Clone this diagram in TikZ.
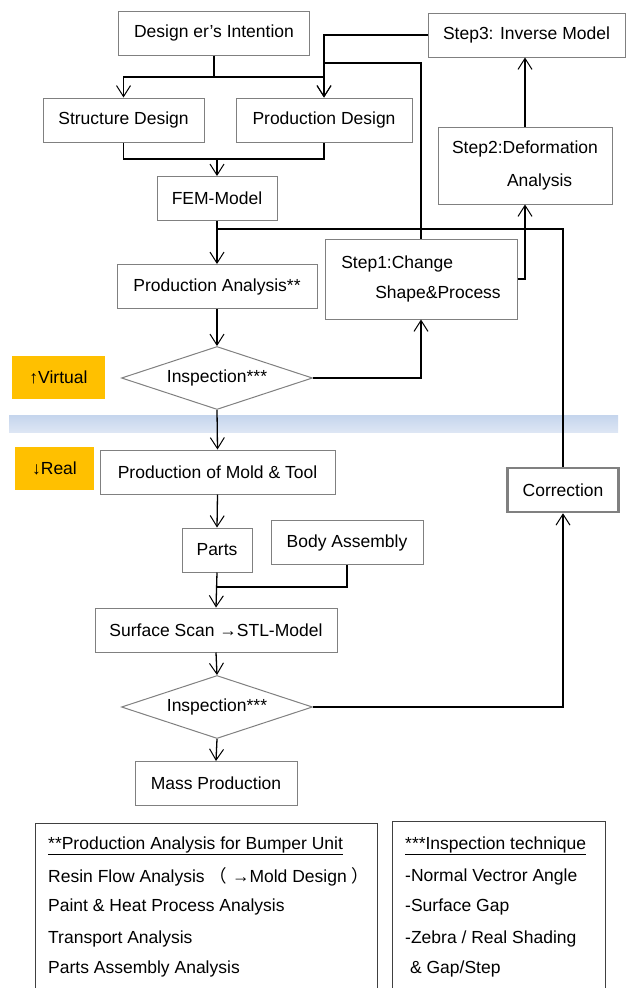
\documentclass[tikz,border=0pt]{standalone}
\usepackage{fontspec}
\setmainfont{Liberation Sans}
\newfontfamily\cjk{Noto Sans CJK SC}
\usetikzlibrary{shapes.geometric,arrows.meta}
\definecolor{boxgray}{rgb}{0.50,0.50,0.50}
\definecolor{legendgray}{rgb}{0.25,0.25,0.25}
\definecolor{labelorange}{HTML}{FFC000}
\definecolor{bandblue}{HTML}{C5D5ED}
\definecolor{bandlight}{HTML}{DDE6F4}
\newcommand{\boxfont}{\fontsize{17.5}{21}\selectfont}
\tikzstyle{flowbox}=[rectangle, draw=boxgray, line width=1pt, fill=white, minimum height=44pt, inner sep=2pt, font=\boxfont]
\tikzstyle{flowcheck}=[diamond, draw=boxgray, line width=1pt, fill=white, aspect=3, inner sep=0pt, minimum width=191pt, minimum height=63pt, font=\boxfont]
\tikzstyle{sidelabel}=[rectangle, fill=labelorange, minimum height=43pt, font=\boxfont]
\tikzstyle{legendline}=[anchor=west, inner sep=0pt, font=\boxfont]
\tikzstyle{link}=[line width=1.3pt]
\newcommand{\flowbox}[4]{
	\node[flowbox, minimum width=#3] (#1) at (#2) {#4};}
\newcommand{\flowcheck}[2]{
	\node[flowcheck] (#1) at (#2) {Inspection***};}

\begin{document}
\begin{tikzpicture}[x=1pt, y=-1pt, >={Straight Barb[length=11pt,width=14pt,line width=1pt]}]
\useasboundingbox (0,0) rectangle (627,988);
% virtual / real border
\shade[top color=bandblue, bottom color=bandlight] (9,415) rectangle (618,432);
\node[sidelabel, minimum width=93pt] (virtual) at (58.5,377.5) {↑Virtual};
\node[sidelabel, minimum width=79pt] (real) at (54.5,468) {↓Real};
% virtual part
\flowbox{intention}{214,33}{191pt}{Design er's Intention}
\flowbox{structure}{123.5,120}{161pt}{Structure Design}
\flowbox{production}{324,120}{176pt}{Production Design}
\flowbox{fem}{217,198.5}{120pt}{FEM-Model}
\flowbox{analysis}{217,286.5}{200pt}{Production Analysis**}
\flowcheck{inspvirt}{217,378}
\node[flowbox, minimum width=192pt, minimum height=80pt, align=left] (step1) at (421,279) {Step1:Change\\[9pt]\hspace*{34pt}Shape\&Process};
\node[flowbox, minimum width=174pt, minimum height=77pt, align=left] (step2) at (525,165.5) {Step2:Deformation\\[12pt]\hspace*{55pt}Analysis};
\flowbox{step3}{526.5,35}{197pt}{Step3: Inverse Model}
% real part
\flowbox{mold}{217.5,472}{235pt}{Production of Mold \& Tool}
\node[flowbox, minimum width=111pt, line width=2.5pt] (correction) at (563,490) {Correction};
\flowbox{parts}{217,550}{70pt}{Parts}
\flowbox{body}{347,542.5}{152pt}{Body Assembly}
\flowbox{scan}{216,630}{242pt}{Surface Scan →STL-Model}
\flowcheck{insreal}{217,707}
\flowbox{mass}{216,783.5}{162pt}{Mass Production}
% junctions
\coordinate (split1) at (214,77);
\coordinate (join1) at (324,63);
\coordinate (merge1) at (217,159);
\coordinate (merge2) at (217,229);
\coordinate (merge3) at (217,587);
\draw[link] (intention.south) -- (split1);
\draw[link, ->] (split1) -| (structure.north);
\draw[link, ->] (split1) -| (production.north);
\draw[link, ->] (step3.west) -| (production.north);
\draw[link] (step1.north) |- (join1);
\draw[link] (structure.south) |- (merge1) -| (production.south);
\draw[link, ->] (merge1) -- (fem.north);
\draw[link, ->] (fem.south) -- (analysis.north);
\draw[link] (correction.north) |- (merge2);
\draw[link, ->] (analysis.south) -- (inspvirt.north);
\draw[link, ->] (inspvirt.east) -| (step1.south);
\draw[link, ->] (step1.east) -| (step2.south);
\draw[link, ->] (step2.north) -- (step2.north |- step3.south);
\draw[link, ->] (inspvirt.south) -- (mold.north);
\draw[link, ->] (mold.south) -- (parts.north);
\draw[link, ->] (parts.south) -- (scan.north);
\draw[link] (body.south) |- (merge3);
\draw[link, ->] (scan.south) -- (insreal.north);
\draw[link, ->] (insreal.south) -- (mass.north);
\draw[link, ->] (insreal.east) -| (correction.south);
% legends
\draw[draw=legendgray, line width=1pt] (35,988) -- (35,823) -- (377,823) -- (377,988);
\draw[draw=legendgray, line width=1pt] (392,988) -- (392,821) -- (605,821) -- (605,988);
\node[legendline] (prodnote) at (48,846) {\underline{**Production Analysis for Bumper Unit}};
\node[legendline] (resin) at (48,877) {Resin Flow Analysis {\cjk （} →Mold Design {\cjk ）}};
\node[legendline] (paint) at (48,907) {Paint \& Heat Process Analysis};
\node[legendline] (transport) at (48,939) {Transport Analysis};
\node[legendline] (assembly) at (48,969) {Parts Assembly Analysis};
\node[legendline] (inspnote) at (405,846) {\underline{***Inspection technique}};
\node[legendline] (normal) at (405,877) {-Normal Vectror Angle};
\node[legendline] (gap) at (405,907) {-Surface Gap};
\node[legendline] (zebra) at (405,939) {-Zebra / Real Shading};
\node[legendline] (step) at (405,969) {\ \& Gap/Step};
\end{tikzpicture}
\end{document}
